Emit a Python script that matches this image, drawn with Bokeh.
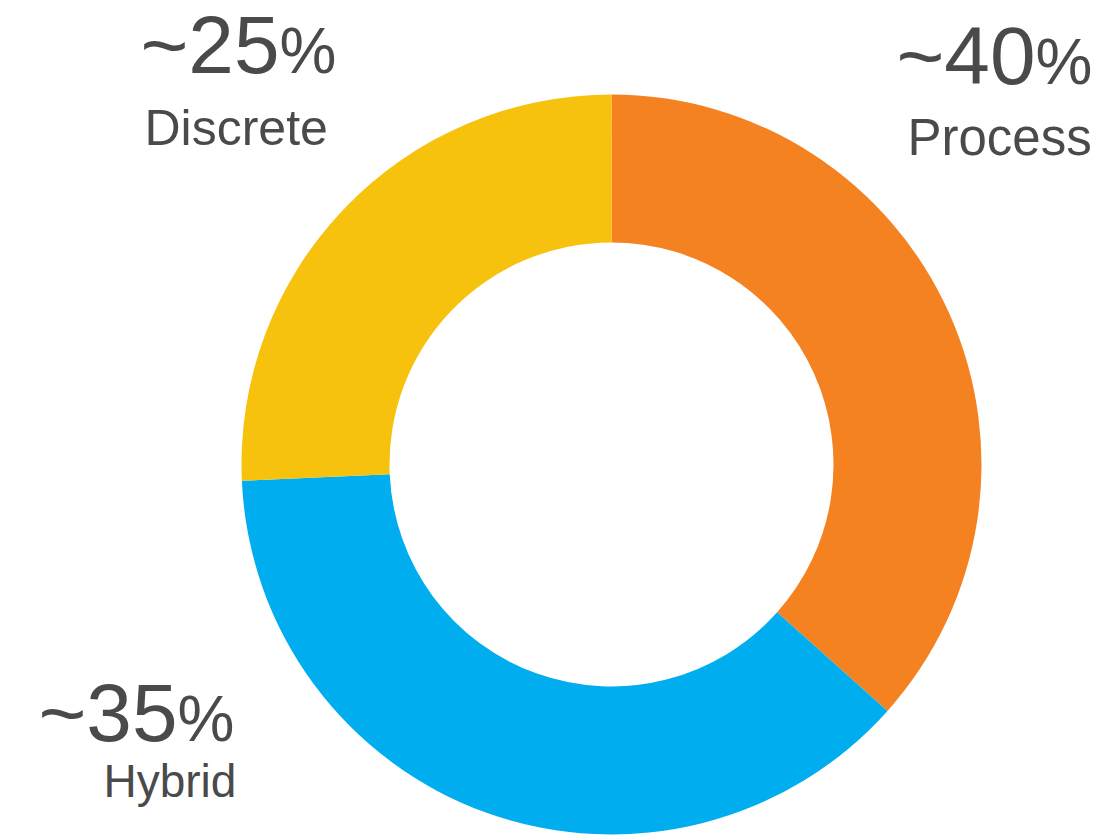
import math
from bokeh.plotting import figure, ColumnDataSource
from bokeh.models import Range1d
from bokeh.core.properties import value
from bokeh.embed import file_html
from bokeh.resources import INLINE

# ---- data ----
segments = ["Process", "Hybrid", "Discrete"]
shares = [36.6, 37.7, 25.7]           # drawn slice sizes (%)
colors = ["#F58220", "#00AEEF", "#F7C20E"]
big_labels = ["~40", "~35", "~25"]
pct_labels = ["%", "%", "%"]
name_labels = ["Process", "Hybrid", "Discrete"]

W, H = 1096, 836
p = figure(width=W, height=H, x_range=Range1d(0, W), y_range=Range1d(0, H),
           output_backend="svg", toolbar_location=None, min_border=0)
p.axis.visible = False
p.grid.visible = False
p.outline_line_color = None
p.background_fill_color = "white"
p.border_fill_color = "white"

cx, cy = 611, 836 - 464
total = sum(shares)
starts, ends = [], []
cum = 0.0
for s in shares:
    starts.append(math.pi / 2 - 2 * math.pi * cum / total)
    cum += s
    ends.append(math.pi / 2 - 2 * math.pi * cum / total)

src = ColumnDataSource(dict(x=[cx] * 3, y=[cy] * 3, start=starts, end=ends,
                            color=colors, seg=segments))
p.annular_wedge(x="x", y="y", inner_radius=222, outer_radius=370,
                start_angle="start", end_angle="end", direction="clock",
                fill_color="color", line_color=None, source=src)

TXT = "#4a4a4a"
FONT = value("Liberation Sans")

def Y(page_y):
    return H - page_y

# label anchor positions (page pixels), tuned to the reference
num_right_x = [1035, 177, 279]
num_y = [Y(83 - 28), Y(740 - 28), Y(72 - 28)]
pct_y = [Y(83 - 22), Y(740 - 22), Y(72 - 22)]
name_left_x = [907, 103, 144]
name_y = [Y(157 - 20), Y(800 - 20), Y(147 - 20)]
name_sizes = ["51px", "46px", "50px"]

p.text(x=num_right_x, y=num_y, text=big_labels, text_align="right",
       text_baseline="alphabetic", text_font=FONT, text_font_size="82px",
       text_color=TXT)
p.text(x=num_right_x, y=pct_y, text=pct_labels, text_align="left",
       text_baseline="alphabetic", text_font=FONT, text_font_size="64px",
       text_color=TXT)
name_src = ColumnDataSource(dict(x=name_left_x, y=name_y, t=name_labels,
                                 fs=name_sizes))
p.text(x="x", y="y", text="t", text_align="left", text_baseline="alphabetic",
       text_font=FONT, text_font_size="fs", text_color=TXT, source=name_src)

open("out.html", "w").write(file_html(p, INLINE))
